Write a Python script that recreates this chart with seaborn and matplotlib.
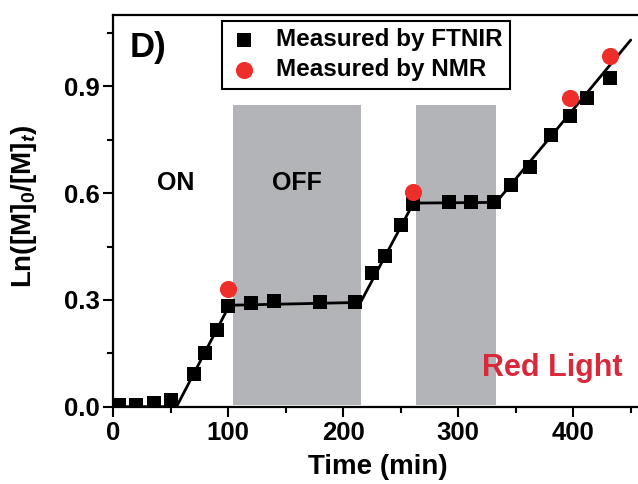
import numpy as np
import pandas as pd
import matplotlib
matplotlib.use('Agg')
import matplotlib.pyplot as plt
import seaborn as sns
from matplotlib.ticker import MultipleLocator, FormatStrFormatter

# ---- data ----
ftnir_t = [5, 20, 35, 50, 70, 80, 90, 100, 120, 140, 180, 210,
           225, 236, 250, 261, 292, 311, 331, 346, 362, 381, 397, 412, 432]
ftnir_y = [0.005, 0.005, 0.01, 0.02, 0.092, 0.152, 0.216, 0.283, 0.292, 0.298, 0.293, 0.293,
           0.375, 0.424, 0.51, 0.569, 0.574, 0.574, 0.574, 0.622, 0.673, 0.764, 0.817, 0.867, 0.923]
nmr_t = [100, 261, 397, 432]
nmr_y = [0.33, 0.604, 0.867, 0.985]
fit_t = [0, 55, 101, 215, 261, 333, 450]
fit_y = [0, 0, 0.285, 0.293, 0.572, 0.574, 1.03]
off_start = [104, 263]
off_end = [215, 333]
off_bottom = 0.005
off_top = 0.848

sns.set_style('ticks')
plt.rcParams['font.family'] = ['Liberation Sans', 'DejaVu Sans']
plt.rcParams['font.weight'] = 'bold'
plt.rcParams['mathtext.fontset'] = 'custom'
plt.rcParams['mathtext.rm'] = 'Liberation Sans:bold'
plt.rcParams['mathtext.it'] = 'Liberation Sans:italic:bold'
plt.rcParams['mathtext.bf'] = 'Liberation Sans:bold'
for k in ['text.color', 'axes.labelcolor', 'xtick.color', 'ytick.color', 'axes.edgecolor']:
    plt.rcParams[k] = 'black'

fig = plt.figure(figsize=(6.38, 4.84), dpi=100)
ax = fig.add_axes([0.1776, 0.1597, 0.829, 0.809])

for x0, x1 in zip(off_start, off_end):
    ax.fill_between([x0, x1], off_bottom, off_top, color='#b3b4b7', lw=0, zorder=0)

sns.lineplot(x=fit_t, y=fit_y, ax=ax, color='black', lw=2.0, sort=False,
             estimator=None, zorder=2, legend=False)
sns.scatterplot(x=ftnir_t, y=ftnir_y, marker='s', s=100, color='black',
                edgecolor='black', linewidth=0, ax=ax, zorder=3, label='Measured by FTNIR')
sns.scatterplot(x=nmr_t, y=nmr_y, marker='o', s=130, color='#ee2e2a',
                edgecolor='#ee2e2a', ax=ax, zorder=4, label='Measured by NMR')

ax.set_xlim(0, 460)
ax.set_ylim(0, 1.1)
ax.xaxis.set_major_locator(MultipleLocator(100))
ax.xaxis.set_minor_locator(MultipleLocator(50))
ax.yaxis.set_major_locator(MultipleLocator(0.3))
ax.yaxis.set_minor_locator(MultipleLocator(0.15))
ax.yaxis.set_major_formatter(FormatStrFormatter('%.1f'))
ax.tick_params(which='major', length=7, width=1.5, direction='out', labelsize=18.5, pad=3)
ax.tick_params(which='minor', length=4, width=1.5, direction='out')
for sp in ax.spines.values():
    sp.set_linewidth(1.6)
    sp.set_color('black')

ax.set_xlabel('Time (min)', fontsize=20, fontweight='bold', va='top')
ax.set_ylabel(r'Ln([M]$_\mathrm{0}$/[M]$_{\mathit{t}}$)', fontsize=20, fontweight='bold')
ax.xaxis.set_label_coords(0.5, -0.12)
ax.yaxis.set_label_coords(-0.14, 0.512)

leg = ax.legend(loc='upper left', bbox_to_anchor=(0.206, 0.986), frameon=True, fancybox=False,
                edgecolor='black', framealpha=1, fontsize=17.5, borderaxespad=0,
                handletextpad=0.7, borderpad=0.3, labelspacing=0.3, handlelength=1.2)
leg.get_frame().set_linewidth(1.5)

ax.text(14, 1.008, 'D)', fontsize=25, fontweight='bold', ha='left', va='center')
ax.text(54, 0.629, 'ON', fontsize=18, fontweight='bold', ha='center', va='center')
ax.text(160, 0.629, 'OFF', fontsize=18, fontweight='bold', ha='center', va='center')
ax.text(382, 0.11, 'Red Light', fontsize=22, fontweight='bold', color='#d9283a',
        ha='center', va='center')

fig.savefig('out.png', dpi=100)
